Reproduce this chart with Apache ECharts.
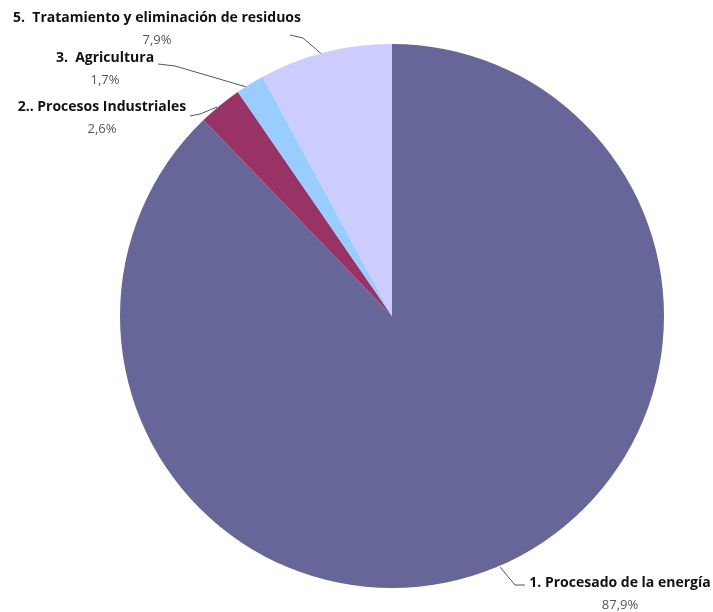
<!DOCTYPE html>
<html><head><meta charset="utf-8">
<script src="https://cdn.jsdelivr.net/npm/echarts@6/dist/echarts.min.js"></script>
<style>html,body{margin:0;padding:0;background:#fff}#c{width:713px;height:612px}</style>
</head><body><div id="c"></div>
<script>
const categories = ['1. Procesado de la energía', '2.. Procesos Industriales', '3.  Agricultura', '5.  Tratamiento y eliminación de residuos'];
const values = [87.9, 2.6, 1.7, 7.9];
const colors = ['#666699', '#993366', '#99CCFF', '#CCCCFF'];
// label anchor positions (x, y of label top-center) and line end points
const labelPos = [
  {x: 620, y: 572, line: [[500, 567], [515, 585], [525, 585]]},
  {x: 102, y: 96, line: [[217, 107], [200, 114], [190, 116]]},
  {x: 105, y: 47, line: [[250, 88], [175, 66], [158, 64]]},
  {x: 157, y: 7, line: [[325, 57], [303, 38], [290, 35]]}
];
const chart = echarts.init(document.getElementById('c'));
chart.setOption({
  animation: false,
  series: [{
    type: 'pie',
    center: [392, 316],
    radius: 272,
    startAngle: 90,
    clockwise: true,
    data: categories.map((n, i) => ({name: n, value: values[i], itemStyle: {color: colors[i]}})),
    label: {
      show: true,
      overflow: 'none',
      formatter: p => '{n|' + p.name + '}\n{p|' + String(p.value).replace('.', ',') + '%}',
      rich: {
        n: {fontFamily: 'Open Sans', fontWeight: 'bold', fontSize: 14, color: '#111', lineHeight: 22, align: 'center'},
        p: {fontFamily: 'Open Sans', fontSize: 13, color: '#555', lineHeight: 22, align: 'center'}
      }
    },
    labelLine: {show: true, lineStyle: {color: '#555', width: 1}},
    labelLayout: params => {
      const lp = labelPos[params.dataIndex];
      return {x: lp.x, y: lp.y, align: 'center', verticalAlign: 'top', labelLinePoints: lp.line};
    }
  }]
});
</script></body></html>
